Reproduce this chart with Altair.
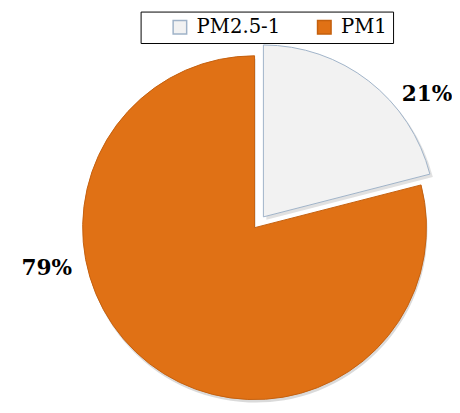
import altair as alt
import pandas as pd
import math

categories = ["PM2.5-1", "PM1"]
shares = [21, 79]
order = [0, 1]
labels = ["21%", "79%"]

fill_colors = ["#F2F2F2", "#E07115"]
stroke_colors = ["#9FB2C8", "#C4600E"]

df = pd.DataFrame({"cat": categories, "share": shares, "ord": order, "label": labels})

SERIF = "DejaVu Serif"

TWO_PI = 2 * math.pi
theta_scale = alt.Scale(domain=[0, 100], range=[0, TWO_PI])
color_scale = alt.Scale(domain=categories, range=fill_colors)
stroke_scale = alt.Scale(domain=categories, range=stroke_colors)

base = (
    alt.Chart(df)
    .transform_stack(stack="share", groupby=[], as_=["s0", "s1"], sort=[alt.SortField("ord")])
    .transform_calculate(mid="(datum.s0 + datum.s1) / 2")
)

R = 175
CX, CY = 251, 220          # centre of the main pie
EX, EY = 260, 209          # centre of the exploded slice

legend = alt.Legend(
    title=None,
    orient="none",
    legendX=135,
    legendY=0,
    direction="horizontal",
    columns=2,
    gridAlign="all",
    symbolType="square",
    symbolSize=190,
    symbolStrokeWidth=1.5,
    symbolOffset=24,
    labelOffset=7,
    columnPadding=10,
    labelFont=SERIF,
    labelFontSize=20,
    labelColor="#000000",
    strokeColor="#000000",
    fillColor="#FFFFFF",
    padding=6,
)


def slice_layer(cat, cx, cy, with_legend):
    enc = dict(
        theta=alt.Theta("s0:Q", scale=theta_scale, stack=False),
        theta2="s1:Q",
        x=alt.value(cx),
        y=alt.value(cy),
        fill=alt.Fill("cat:N", scale=color_scale, legend=legend if with_legend else None),
        stroke=alt.Stroke("cat:N", scale=stroke_scale, legend=legend if with_legend else None),
    )
    return base.transform_filter(alt.datum.cat == cat).mark_arc(
        radius=R, strokeWidth=1
    ).encode(**enc)


def shadow_layer(cat, cx, cy, opacity):
    return base.transform_filter(alt.datum.cat == cat).mark_arc(
        radius=R, color="#6B6B6B", opacity=opacity
    ).encode(
        theta=alt.Theta("s0:Q", scale=theta_scale, stack=False),
        theta2="s1:Q",
        x=alt.value(cx),
        y=alt.value(cy),
    )


def label_layer(cat, dx, dy):
    return base.transform_filter(alt.datum.cat == cat).mark_text(
        radius=200,
        font=SERIF,
        fontWeight="bold",
        fontSize=22,
        color="#000000",
        align="center",
        baseline="middle",
        dx=dx,
        dy=dy,
    ).encode(
        theta=alt.Theta("mid:Q", scale=theta_scale, stack=False),
        x=alt.value(CX),
        y=alt.value(CY),
        text="label:N",
    )


chart = alt.layer(
    shadow_layer("PM1", CX + 1, CY + 3, 0.25),
    slice_layer("PM1", CX, CY, True),
    shadow_layer("PM2.5-1", EX + 3, EY + 3, 0.2),
    slice_layer("PM2.5-1", EX, EY, True),
    label_layer("PM2.5-1", 53, 22),
    label_layer("PM1", -89, -117),
).properties(
    width=452,
    height=405,
    autosize=alt.AutoSizeParams(type="none"),
    padding=0,
).configure_view(stroke=None)

chart.save("out.html", embed_options={"renderer": "svg", "actions": False})
